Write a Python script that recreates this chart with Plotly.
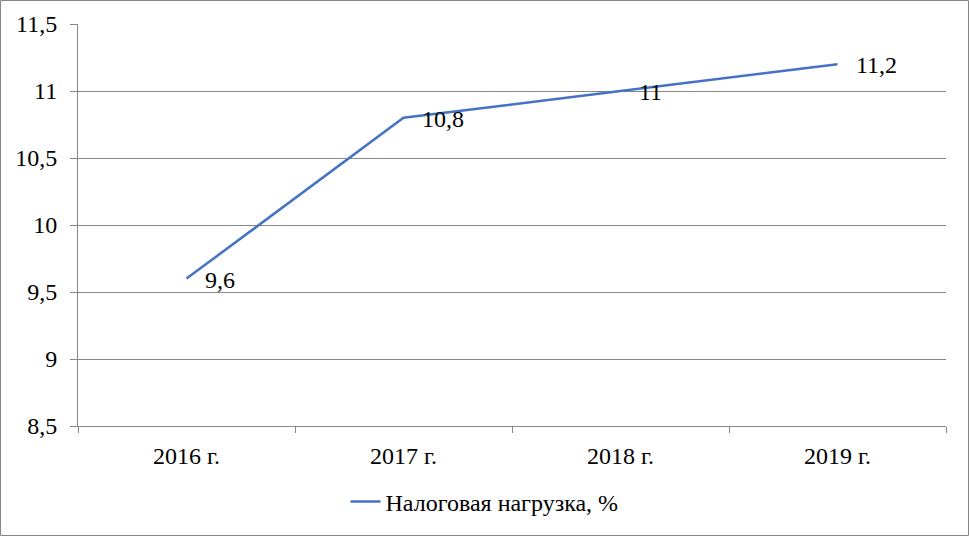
import plotly.graph_objects as go

years = ["2016 г.", "2017 г.", "2018 г.", "2019 г."]
values = [9.6, 10.8, 11.0, 11.2]
labels = ["9,6", "10,8", "11", "11,2"]
y_ticks = [8.5, 9, 9.5, 10, 10.5, 11, 11.5]
y_tick_text = ["8,5", "9", "9,5", "10", "10,5", "11", "11,5"]
series_name = "Налоговая нагрузка, %"

FONT = "Times New Roman, Liberation Serif, serif"
FS = 24
W, H = 969, 536
L, R, T, B = 78, 23, 24, 110
pw, ph = W - L - R, H - T - B

fig = go.Figure()
fig.add_trace(go.Scatter(
    x=years, y=values, mode="lines", name=series_name,
    line=dict(color="#4472C4", width=2.5),
    cliponaxis=False,
))

for xv, yv, t in zip(years, values, labels):
    fig.add_annotation(x=xv, y=yv, text=t, showarrow=False,
                       xanchor="left", yanchor="middle", xshift=16, yshift=-1,
                       font=dict(family=FONT, size=FS, color="#000000"))

def px_to_paper_x(p):
    return (p - L) / pw

def px_to_paper_y(p):
    return (H - B - p) / ph

fig.update_layout(
    width=W, height=H,
    margin=dict(l=L, r=R, t=T, b=B),
    paper_bgcolor="white", plot_bgcolor="white",
    font=dict(family=FONT, size=FS, color="#000000"),
    showlegend=True,
    legend=dict(orientation="h", x=px_to_paper_x(484.5), xanchor="center",
                y=px_to_paper_y(502), yanchor="middle",
                font=dict(family=FONT, size=FS, color="#000000")),
    xaxis=dict(type="category", tickson="boundaries", ticks="outside", ticklen=6,
               tickcolor="#868686", showgrid=False, showline=True,
               linecolor="#868686", linewidth=1, range=[-0.5, 3.5],
               ticklabelstandoff=8,
               tickfont=dict(family=FONT, size=FS)),
    yaxis=dict(range=[8.5, 11.5], tickvals=y_ticks, ticktext=y_tick_text,
               ticks="outside", ticklen=7, tickcolor="#868686",
               showgrid=True, gridcolor="#868686", gridwidth=1,
               showline=True, linecolor="#868686", linewidth=1,
               zeroline=False, ticklabelstandoff=8,
               tickfont=dict(family=FONT, size=FS)),
    shapes=[dict(type="rect", xref="paper", yref="paper",
                 x0=px_to_paper_x(0.5), x1=px_to_paper_x(W - 0.5),
                 y0=px_to_paper_y(H - 0.5), y1=px_to_paper_y(0.5),
                 line=dict(color="#868686", width=1), layer="below")],
)

fig.write_html("out.html", config={"displayModeBar": False},
               post_script="document.body.style.margin='0';document.body.style.padding='0';")
